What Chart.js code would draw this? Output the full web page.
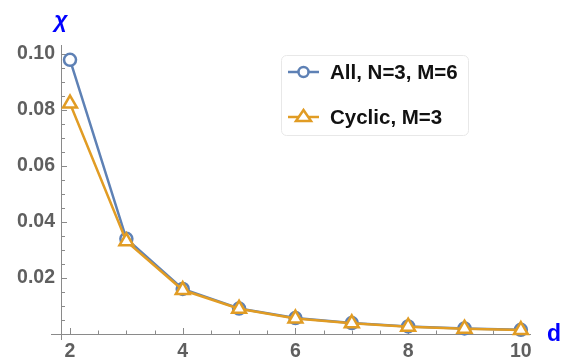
<!DOCTYPE html>
<html>
<head>
<meta charset="utf-8">
<script src="https://cdn.jsdelivr.net/npm/chart.js@4"></script>
<style>
  html, body { margin: 0; padding: 0; background: #fff; }
  #wrap { width: 573px; height: 358px; position: relative; }
</style>
</head>
<body>
<div id="wrap"><canvas id="myChart" width="573" height="358"></canvas></div>
<script>
// data
var dValues = [2, 3, 4, 5, 6, 7, 8, 9, 10];
var allValues = [0.0979, 0.034, 0.0161, 0.0091, 0.0057, 0.0039, 0.0027, 0.0020, 0.0015];
var cyclicValues = [0.0823, 0.0331, 0.0157, 0.0090, 0.0055, 0.0038, 0.0026, 0.0019, 0.0014];
var seriesLabels = ['All, N=3, M=6', 'Cyclic, M=3'];
var xTicks = [2, 4, 6, 8, 10];
var yTicks = [0.02, 0.04, 0.06, 0.08, 0.10];

var blue = '#5E81B5';
var orange = '#E19C24';
var axisGray = '#8a8a8a';
var labelGray = '#5f5f5f';

function points(vals) {
	return dValues.map(function(d, i) { return { x: d, y: vals[i] }; });
}

// inward ticks, axis lines, axis titles and the boxed legend
var decorPlugin = {
	id: 'decor',
	beforeDatasetsDraw: function(chart) {
		var c = chart.ctx;
		var xs = chart.scales.x;
		var ys = chart.scales.y;
		var x0 = xs.getPixelForValue(xs.min);
		var y0 = ys.getPixelForValue(0);
		c.save();
		c.strokeStyle = axisGray;
		c.lineWidth = 1;
		c.beginPath();
		c.moveTo(x0 - 10, y0 + 0.5);
		c.lineTo(xs.right, y0 + 0.5);
		c.moveTo(x0 + 0.5, ys.top);
		c.lineTo(x0 + 0.5, y0 + 6);
		// x ticks
		for (var v = 2; v <= 10.001; v += 0.5) {
			var px = Math.round(xs.getPixelForValue(v)) + 0.5;
			var len = (Math.abs(v - Math.round(v / 2) * 2) < 1e-6) ? 6 : 3.5;
			c.moveTo(px, y0);
			c.lineTo(px, y0 - len);
		}
		// y ticks
		for (var k = 1; k <= 20; k++) {
			var val = k * 0.005;
			var py = Math.round(ys.getPixelForValue(val)) + 0.5;
			var l = (k % 4 === 0) ? 6 : 4;
			c.moveTo(x0, py);
			c.lineTo(x0 + l, py);
		}
		c.stroke();
		c.restore();
	},
	afterDraw: function(chart) {
		var c = chart.ctx;
		c.save();
		// axis titles
		c.fillStyle = '#0000FF';
		c.textAlign = 'center';
		c.textBaseline = 'middle';
		c.font = 'italic bold 23px "Liberation Sans", Arial, sans-serif';
		c.fillText('\u03C7', 61, 21);
		c.font = 'bold 23px "Liberation Sans", Arial, sans-serif';
		c.fillText('d', 554, 335);

		// legend
		var bx = 281, by = 55, bw = 187, bh = 80;
		c.fillStyle = '#ffffff';
		c.strokeStyle = '#e8e8e8';
		c.lineWidth = 1;
		c.beginPath();
		c.roundRect(bx + 0.5, by + 0.5, bw, bh, 5);
		c.fill();
		c.stroke();

		var rows = [
			{ y: 72, color: blue, style: 'circle', text: seriesLabels[0] },
			{ y: 117, color: orange, style: 'triangle', text: seriesLabels[1] }
		];
		rows.forEach(function(r) {
			c.strokeStyle = r.color;
			c.lineWidth = 2.5;
			c.beginPath();
			c.moveTo(288, r.y);
			c.lineTo(319, r.y);
			c.stroke();
			c.fillStyle = '#fff';
			c.beginPath();
			if (r.style === 'circle') {
				c.arc(303.5, r.y, 5, 0, Math.PI * 2);
			} else {
				c.moveTo(303.5, r.y - 7);
				c.lineTo(311, r.y + 4);
				c.lineTo(296, r.y + 4);
				c.closePath();
			}
			c.fill();
			c.stroke();
			c.fillStyle = '#111';
			c.textAlign = 'left';
			c.textBaseline = 'middle';
			c.font = 'bold 20.5px "Liberation Sans", Arial, sans-serif';
			c.fillText(r.text, 330, r.y + 1);
		});
		c.restore();
	}
};

var ctx = document.getElementById('myChart').getContext('2d');
var chart = new Chart(ctx, {
	type: 'line',
	data: {
		datasets: [{
			label: seriesLabels[0],
			data: points(allValues),
			borderColor: blue,
			borderWidth: 2.5,
			pointStyle: 'circle',
			pointRadius: 6,
			pointBorderWidth: 2.5,
			pointBackgroundColor: '#fff',
			pointBorderColor: blue,
			order: 1,
			clip: false
		}, {
			label: seriesLabels[1],
			data: points(cyclicValues),
			borderColor: orange,
			borderWidth: 2.5,
			pointStyle: 'triangle',
			pointRadius: 8,
			pointBorderWidth: 2.5,
			pointBackgroundColor: '#fff',
			pointBorderColor: orange,
			order: 0,
			clip: false
		}]
	},
	options: {
		responsive: false,
		animation: false,
		layout: { padding: { top: 45, right: 42, left: 0, bottom: 0 } },
		plugins: { legend: { display: false }, tooltip: { enabled: false } },
		scales: {
			x: {
				type: 'linear',
				min: 1.84,
				max: 10.18,
				grid: { display: false, drawTicks: false },
				border: { display: false },
				afterBuildTicks: function(s) { s.ticks = xTicks.map(function(v) { return { value: v }; }); },
				afterFit: function(s) { s.height = 24; },
				ticks: {
					padding: 6,
					maxRotation: 0,
					color: labelGray,
					font: { family: '"Liberation Sans", Arial, sans-serif', size: 19.5, weight: 'bold' }
				}
			},
			y: {
				min: 0,
				max: 0.1032,
				grid: { display: false, drawTicks: false },
				border: { display: false },
				afterBuildTicks: function(s) { s.ticks = yTicks.map(function(v) { return { value: v }; }); },
				afterFit: function(s) { s.width = 61; },
				ticks: {
					padding: 6,
					color: labelGray,
					font: { family: '"Liberation Sans", Arial, sans-serif', size: 19.5, weight: 'bold' },
					callback: function(v) { return v.toFixed(2); }
				}
			}
		}
	},
	plugins: [decorPlugin]
});
</script>
</body>
</html>
